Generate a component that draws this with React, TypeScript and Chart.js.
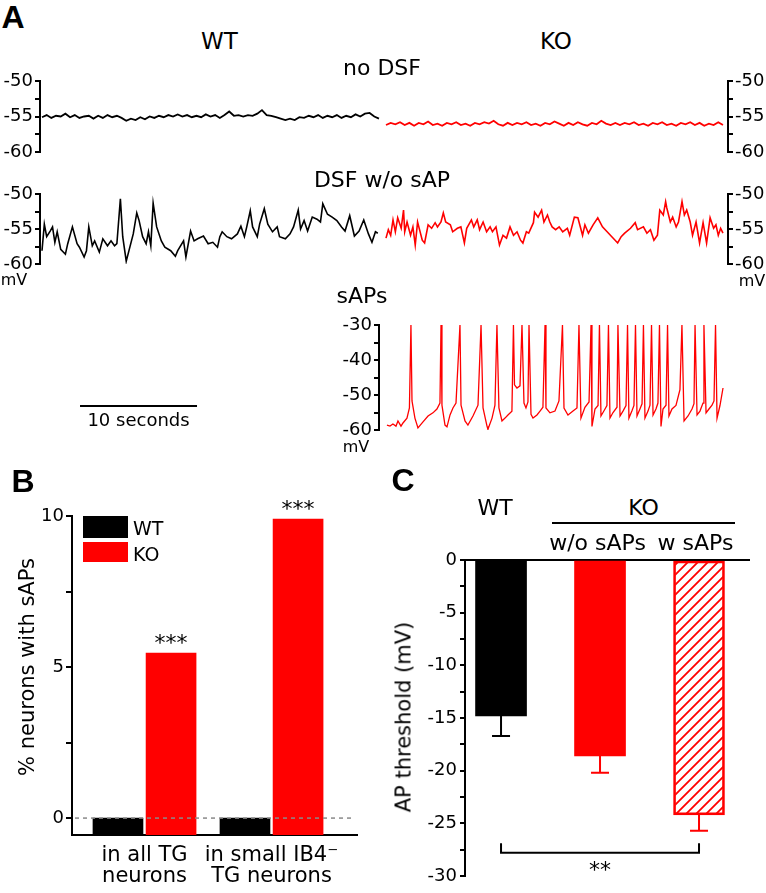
import React, { useEffect, useRef } from "react";
import { Chart, registerables } from "chart.js";

Chart.register(...registerables);

const FONT = "'DejaVu Sans', sans-serif";
const BOLD_FONT = "'Liberation Sans', Arial, sans-serif";
const RED = "#ff0000";
const BLACK = "#000000";
const TICK_SIZE = 18;

// ---------------- Panel A data ----------------
// time axis shared by the WT (left) and KO (right) traces, seconds
const noDsfWtStart = 0;
const noDsfKoStart = 29.4;
const noDsfStep = 0.4;
const noDsfWtMv = [
  -55.1, -54.8, -55.2, -54.9, -55.0, -54.6, -55.1, -54.8, -55.2, -55.0,
  -54.9, -55.3, -54.9, -55.2, -54.8, -55.1, -54.9, -55.2, -55.6, -55.3,
  -55.5, -55.1, -55.4, -55.0, -55.2, -54.9, -55.1, -54.8, -55.0, -54.7,
  -55.0, -54.8, -55.1, -54.9, -55.1, -54.7, -55.0, -54.8, -55.2, -54.8,
  -54.3, -54.9, -54.8, -55.0, -54.8, -54.9, -54.6, -54.1, -54.8, -54.9,
  -55.1, -55.3, -55.5, -55.3, -55.5, -55.1, -55.2, -54.9, -55.1, -54.8,
  -55.2, -54.9, -55.1, -54.8, -55.2, -54.9, -55.1, -54.7, -55.0, -54.6,
  -54.5, -55.0, -55.3,
];
const noDsfKoMv = [
  -56.2, -55.9, -56.1, -55.8, -56.2, -55.9, -56.3, -55.9, -56.1, -55.7,
  -56.2, -56.0, -56.3, -55.9, -56.1, -55.8, -56.2, -56.0, -56.3, -55.9,
  -56.1, -55.8, -56.0, -55.6, -56.1, -56.3, -55.9, -56.2, -55.9, -56.1,
  -55.8, -56.2, -56.0, -56.3, -55.9, -56.1, -55.7, -56.0, -56.3, -55.9,
  -56.2, -55.8, -56.1, -56.3, -55.9, -56.1, -55.6, -56.0, -56.2, -55.9,
  -56.2, -55.9, -56.1, -55.8, -56.2, -56.0, -56.3, -55.9, -56.1, -55.8,
  -56.2, -56.0, -56.3, -55.9, -56.1, -55.8, -56.2, -55.9, -56.3, -56.0,
  -56.2, -55.8, -56.2,
];

const dsfWtTime = [
  0, 0.2, 0.4, 0.7, 0.9, 1.1, 1.3, 1.6, 2.0, 2.2,
  2.6, 3.0, 3.2, 3.6, 3.8, 4.0, 4.3, 4.5, 4.9, 5.2,
  5.6, 5.9, 6.2, 6.4, 6.7, 6.9, 7.2, 7.4, 7.8, 8.1,
  8.3, 8.6, 8.9, 9.1, 9.3, 9.5, 9.8, 10.2, 10.5, 11.0,
  11.4, 11.6, 12.1, 12.3, 12.7, 13.0, 13.3, 13.8, 14.2, 14.6,
  15.0, 15.2, 15.4, 15.8, 16.2, 16.7, 17.0, 17.3, 17.5, 17.8,
  18.0, 18.4, 18.6, 19.0, 19.3, 19.7, 20.1, 20.3, 20.8, 21.2,
  21.5, 21.9, 22.1, 22.4, 22.7, 23.1, 23.5, 23.8, 24.0, 24.4,
  24.8, 25.2, 25.6, 25.9, 26.3, 26.7, 27.1, 27.5, 27.9, 28.2,
  28.5, 28.7,
];
const dsfWtMv = [
  -58.1, -54.3, -56.1, -55.3, -54.7, -56.9, -55.4, -57.9, -58.6, -57.1,
  -54.7, -57.1, -57.6, -59.0, -58.1, -54.7, -57.4, -56.7, -58.3, -56.4,
  -57.4, -56.7, -57.4, -57.1, -50.7, -56.1, -59.6, -58.3, -55.7, -52.7,
  -53.8, -56.1, -57.1, -55.4, -57.4, -51.3, -54.7, -56.7, -57.6, -58.1,
  -58.9, -58.1, -56.7, -59.0, -55.3, -56.7, -56.4, -56.0, -57.1, -56.9,
  -57.6, -56.1, -55.4, -56.1, -56.4, -55.7, -54.6, -56.1, -54.7, -52.4,
  -54.7, -56.1, -54.3, -52.1, -54.3, -55.4, -54.7, -56.1, -56.4, -55.7,
  -54.7, -52.3, -55.0, -53.8, -55.3, -53.3, -53.6, -54.0, -51.4, -52.9,
  -53.3, -53.8, -54.7, -55.3, -53.1, -56.0, -55.3, -53.7, -55.7, -56.9,
  -55.4, -55.6,
];

const dsfKoTime = [
  29.4, 29.6, 29.8, 30.0, 30.2, 30.4, 30.7, 30.9, 31.0, 31.2,
  31.5, 31.7, 31.9, 32.1, 32.5, 32.7, 33.0, 33.3, 33.6, 33.8,
  34.1, 34.3, 34.5, 34.9, 35.1, 35.5, 35.8, 36.1, 36.3, 36.7,
  36.9, 37.2, 37.4, 37.7, 38.0, 38.3, 38.5, 38.8, 39.1, 39.4,
  39.7, 40.0, 40.3, 40.6, 40.9, 41.1, 41.4, 41.6, 42.0, 42.1,
  42.4, 42.7, 42.9, 43.2, 43.4, 43.6, 43.9, 44.2, 44.5, 44.9,
  45.1, 45.5, 45.8, 46.2, 46.4, 46.7, 47.1, 47.5, 47.9, 48.3,
  48.7, 49.2, 49.5, 49.8, 50.3, 50.7, 50.9, 51.4, 51.7, 52.0,
  52.3, 52.6, 52.8, 53.1, 53.3, 53.4, 53.7, 53.9, 54.2, 54.4,
  54.7, 54.9, 55.1, 55.4, 55.6, 55.9, 56.2, 56.5, 56.8, 57.1,
  57.4, 57.6, 57.8, 58.0, 58.2,
];
const dsfKoMv = [
  -56.3, -55.1, -55.9, -53.7, -55.4, -53.4, -54.9, -52.3, -55.4, -54.0,
  -55.9, -54.7, -57.3, -54.0, -56.6, -57.0, -54.4, -54.9, -54.1, -54.7,
  -54.0, -52.7, -54.0, -54.4, -55.4, -54.9, -54.7, -57.0, -54.9, -53.7,
  -54.7, -53.7, -55.1, -54.0, -55.4, -54.7, -55.4, -54.7, -57.3, -55.9,
  -56.3, -54.7, -55.9, -55.4, -56.6, -57.0, -55.4, -55.6, -54.1, -52.6,
  -53.3, -52.3, -54.0, -53.0, -54.0, -54.7, -55.1, -54.7, -55.4, -54.9,
  -55.9, -53.3, -53.4, -55.9, -54.4, -55.6, -54.4, -53.4, -54.7, -55.4,
  -56.1, -57.0, -56.1, -55.6, -54.9, -54.1, -55.1, -54.7, -55.6, -55.1,
  -56.6, -55.9, -52.3, -53.0, -51.1, -52.0, -54.0, -53.3, -54.7, -54.0,
  -51.1, -53.0, -52.3, -54.0, -55.9, -54.0, -57.0, -54.1, -57.0, -53.4,
  -54.9, -54.4, -55.9, -54.9, -55.6,
];

const sapTime = [
  0.17, 0.43, 0.68, 0.94, 1.11, 1.37, 1.54, 1.88, 2.09, 2.22,
  2.31, 2.56, 2.82, 3.25, 3.68, 4.10, 4.44, 4.70, 4.79, 4.87,
  5.13, 5.30, 5.56, 5.81, 6.07, 6.41, 6.50, 6.84, 7.09, 7.52,
  7.95, 8.21, 8.38, 8.72, 8.80, 9.15, 9.40, 9.57, 9.74, 10.00,
  10.26, 10.51, 10.85, 10.98, 11.07, 11.28, 11.54, 11.71, 11.88, 12.05,
  12.22, 12.31, 12.48, 12.65, 12.99, 13.25, 13.50, 13.68, 13.76, 14.10,
  14.53, 14.87, 15.17, 15.30, 15.64, 16.07, 16.41, 16.58, 16.75, 17.09,
  17.44, 17.61, 17.69, 17.95, 18.21, 18.33, 18.46, 18.72, 18.97, 19.10,
  19.23, 19.49, 19.83, 19.91, 20.09, 20.34, 20.60, 20.73, 20.85, 21.11,
  21.28, 21.41, 21.54, 21.79, 21.97, 22.09, 22.22, 22.48, 22.65, 22.78,
  22.91, 23.16, 23.33, 23.46, 23.59, 23.76, 24.02, 24.15, 24.27, 24.53,
  24.87, 25.21, 25.38, 25.56, 25.90, 26.24, 26.41, 26.50, 26.67, 26.92,
  27.18, 27.26, 27.44, 27.69, 27.95, 28.12, 28.25, 28.38, 28.63, 28.89,
];
const sapMv = [
  -58.6, -58.9, -58.3, -58.9, -57.4, -58.9, -58.0, -56.6, -53.7, -30,
  -51.7, -56.6, -59.4, -57.7, -56.0, -55.1, -54.0, -52.3, -30, -52.9,
  -58.6, -59.1, -55.7, -53.7, -52.3, -30, -52.9, -57.4, -58.6, -56.0,
  -52.9, -30, -53.7, -58.9, -59.8, -56.6, -52.9, -30, -53.7, -57.4,
  -56.6, -55.7, -54.6, -30, -47.1, -48.0, -47.4, -30, -52.3, -53.7,
  -52.0, -30, -55.5, -56.6, -55.7, -54.6, -53.5, -30, -53.7, -55.1,
  -54.6, -51.7, -30, -53.7, -55.7, -54.6, -53.7, -30, -56.6, -53.5,
  -52.0, -30, -59.0, -54.0, -53.0, -30, -56.0, -54.5, -53.0, -30,
  -56.6, -55.0, -53.5, -30, -56.0, -54.6, -53.0, -30, -56.6, -54.5,
  -53.0, -30, -56.0, -54.0, -52.5, -30, -56.6, -54.6, -52.9, -30,
  -55.7, -54.0, -52.3, -30, -59.0, -54.0, -52.9, -30, -56.0, -54.0,
  -53.0, -48.5, -30, -57.4, -56.0, -54.0, -52.5, -30, -55.7, -54.6,
  -52.3, -30, -55.1, -54.0, -52.9, -51.7, -30, -56.6, -53.0, -48.0,
];

const traceMajor = [-60, -55, -50];
const traceMinor = [-57.5, -52.5];
const sapMajor = [-60, -50, -40, -30];
const sapMinor = [-55, -45, -35];
const scaleBarStart = 3.25;
const scaleBarSeconds = 10;

// ---------------- Panel B data ----------------
const bGroups = [["in all TG", "neurons"], ["in small IB4\u207B", "TG neurons"]];
const bWt = [0, 0];
const bKo = [5.46, 9.9];
const bStars = ["***", "***"];
const bMajor = [0, 5, 10];
const bMinor = [2.5, 7.5];
const bMin = -0.56;
const bMax = 10;

// ---------------- Panel C data ----------------
const cCategories = ["WT", "KO w/o sAPs", "KO w sAPs"];
const cMean = [-14.8, -18.6, -24.2];
const cSem = [1.9, 1.6, 1.5];
const cMajor = [-30, -25, -20, -15, -10, -5, 0];
const cMinor = [-27.5, -22.5, -17.5, -12.5, -7.5, -2.5];
const cSig = { from: 0, to: 2, level: -27.8, label: "**" };

// ---------------- helpers ----------------
function yAxis(o: any) {
  const all = [...o.major, ...o.minor].sort((a: number, b: number) => a - b);
  return {
    type: "linear",
    position: o.position,
    min: o.min,
    max: o.max,
    afterBuildTicks: (s: any) => {
      s.ticks = all.map((v: number) => ({ value: v }));
    },
    afterFit: (s: any) => {
      s.width = o.width;
    },
    ticks: {
      autoSkip: false,
      padding: o.padding ?? 2,
      color: BLACK,
      font: { family: FONT, size: TICK_SIZE },
      callback: (v: number) => (o.major.includes(v) ? String(v) : ""),
    },
    grid: {
      drawOnChartArea: !!o.zeroLine,
      color: (c: any) => (o.zeroLine && c.tick && c.tick.value === 0 ? BLACK : "rgba(0,0,0,0)"),
      lineWidth: 2,
      drawTicks: true,
      tickLength: o.tickLength ?? 5,
      tickColor: BLACK,
      tickWidth: 2,
    },
    border: { display: true, color: BLACK, width: 2 },
  };
}

const trace = (time: number[], mv: number[], color: string, width = 1.5) => ({
  data: time.map((t, i) => ({ x: t, y: mv[i] })),
  borderColor: color,
  borderWidth: width,
  pointRadius: 0,
  tension: 0,
  fill: false,
  yAxisID: "y",
});

function traceChart(canvas: HTMLCanvasElement, datasets: any[], o: any) {
  const scales: any = {
    x: { type: "linear", display: false, min: o.xMin, max: o.xMax, offset: false },
    y: yAxis({ ...o.y, position: "left", width: o.leftWidth }),
  };
  if (o.rightWidth) scales.y2 = yAxis({ ...o.y, position: "right", width: o.rightWidth });
  return new Chart(canvas, {
    type: "line",
    data: { datasets },
    options: {
      responsive: false,
      animation: false,
      events: [],
      layout: { padding: o.padding },
      plugins: { legend: { display: false }, tooltip: { enabled: false } },
      scales,
    },
    plugins: o.plugins || [],
  } as any);
}

const scaleBarPlugin = {
  id: "scaleBar",
  afterDraw(chart: any) {
    const xs = chart.scales.x;
    const ctx = chart.ctx;
    const x0 = xs.getPixelForValue(scaleBarStart);
    const x1 = xs.getPixelForValue(scaleBarStart + scaleBarSeconds);
    const y = chart.chartArea.bottom + 142;
    ctx.save();
    ctx.strokeStyle = BLACK;
    ctx.lineWidth = 2;
    ctx.beginPath();
    ctx.moveTo(x0, y);
    ctx.lineTo(x1, y);
    ctx.stroke();
    ctx.fillStyle = BLACK;
    ctx.font = `18px ${FONT}`;
    ctx.textAlign = "center";
    ctx.textBaseline = "middle";
    ctx.fillText(`${scaleBarSeconds} seconds`, (x0 + x1) / 2, y + 15);
    ctx.restore();
  },
};

const bPlugin = {
  id: "bExtras",
  afterDatasetsDraw(chart: any) {
    const ctx = chart.ctx;
    const ys = chart.scales.y;
    const a = chart.chartArea;
    const y0 = ys.getPixelForValue(0);
    ctx.save();
    ctx.setLineDash([4, 4]);
    ctx.strokeStyle = "#8a8a8a";
    ctx.lineWidth = 1.5;
    ctx.beginPath();
    ctx.moveTo(a.left + 3, y0);
    ctx.lineTo(a.right - 4, y0);
    ctx.stroke();
    ctx.setLineDash([]);
    ctx.fillStyle = BLACK;
    ctx.font = `22px ${FONT}`;
    ctx.textAlign = "center";
    ctx.textBaseline = "alphabetic";
    chart.getDatasetMeta(1).data.forEach((bar: any, i: number) => {
      ctx.fillText(bStars[i], bar.x, bar.y - 3);
    });
    ctx.restore();
  },
};

const cErrColors = [BLACK, RED, RED];
const cPlugin = {
  id: "cExtras",
  afterDatasetsDraw(chart: any) {
    const ctx = chart.ctx;
    const ys = chart.scales.y;
    const bars = chart.getDatasetMeta(0).data;
    ctx.save();
    ctx.lineWidth = 2;
    bars.forEach((bar: any, i: number) => {
      const x = bar.x;
      const y0 = ys.getPixelForValue(cMean[i]);
      const y1 = ys.getPixelForValue(cMean[i] - cSem[i]);
      ctx.strokeStyle = cErrColors[i];
      ctx.beginPath();
      ctx.moveTo(x, y0);
      ctx.lineTo(x, y1);
      ctx.moveTo(x - 9, y1);
      ctx.lineTo(x + 9, y1);
      ctx.stroke();
    });
    const xa = bars[cSig.from].x;
    const xb = bars[cSig.to].x;
    const yb = ys.getPixelForValue(cSig.level);
    const yt = ys.getPixelForValue(cSig.level + 0.9);
    ctx.strokeStyle = BLACK;
    ctx.beginPath();
    ctx.moveTo(xa, yt);
    ctx.lineTo(xa, yb);
    ctx.lineTo(xb, yb);
    ctx.lineTo(xb, yt);
    ctx.stroke();
    ctx.fillStyle = BLACK;
    ctx.font = `22px ${FONT}`;
    ctx.textAlign = "center";
    ctx.textBaseline = "alphabetic";
    ctx.fillText(cSig.label, (xa + xb) / 2, yb + 24);
    ctx.restore();
  },
};

function hatchPattern(ctx: CanvasRenderingContext2D) {
  const c = document.createElement("canvas");
  c.width = 10;
  c.height = 10;
  const g = c.getContext("2d")!;
  g.strokeStyle = RED;
  g.lineWidth = 1.8;
  g.beginPath();
  g.moveTo(0, 10);
  g.lineTo(10, 0);
  g.moveTo(-5, 5);
  g.lineTo(5, -5);
  g.moveTo(5, 15);
  g.lineTo(15, 5);
  g.stroke();
  return ctx.createPattern(c, "repeat");
}

// ---------------- components ----------------
function Txt(p: any) {
  const tx = p.align === "left" ? "0" : p.align === "right" ? "-100%" : "-50%";
  return (
    <div
      style={{
        position: "absolute",
        left: p.x,
        top: p.y,
        transform: `translate(${tx}, -50%)${p.rotate ? " rotate(-90deg)" : ""}`,
        fontFamily: p.family || FONT,
        fontSize: p.size,
        fontWeight: p.bold ? 700 : 400,
        lineHeight: 1,
        whiteSpace: "nowrap",
        color: BLACK,
      }}
    >
      {p.children}
    </div>
  );
}

function Cv(p: any) {
  return (
    <canvas
      ref={p.cref}
      width={p.w}
      height={p.h}
      style={{ position: "absolute", left: p.x, top: p.y, width: p.w, height: p.h, display: "block" }}
    />
  );
}

export default function App() {
  const r1 = useRef<HTMLCanvasElement>(null);
  const r2 = useRef<HTMLCanvasElement>(null);
  const r3 = useRef<HTMLCanvasElement>(null);
  const rb = useRef<HTMLCanvasElement>(null);
  const rc = useRef<HTMLCanvasElement>(null);

  useEffect(() => {
    const charts: Chart[] = [];
    const rowY = { min: -60, max: -50, major: traceMajor, minor: traceMinor, tickLength: 5, padding: 2 };

    const wt1Time = noDsfWtMv.map((_, i) => noDsfWtStart + i * noDsfStep);
    const ko1Time = noDsfKoMv.map((_, i) => noDsfKoStart + i * noDsfStep);

    charts.push(
      traceChart(r1.current!, [trace(wt1Time, noDsfWtMv, BLACK, 1.8), trace(ko1Time, noDsfKoMv, RED, 1.8)], {
        xMin: -0.17,
        xMax: 58.63,
        y: rowY,
        leftWidth: 40,
        rightWidth: 38,
        padding: { top: 21, bottom: 18, left: 0, right: 0 },
      })
    );

    charts.push(
      traceChart(r2.current!, [trace(dsfWtTime, dsfWtMv, BLACK, 1.6), trace(dsfKoTime, dsfKoMv, RED, 1.6)], {
        xMin: -0.17,
        xMax: 58.63,
        y: rowY,
        leftWidth: 40,
        rightWidth: 38,
        padding: { top: 19, bottom: 171, left: 0, right: 0 },
        plugins: [scaleBarPlugin],
      })
    );

    charts.push(
      traceChart(r3.current!, [trace(sapTime, sapMv, RED, 1.3)], {
        xMin: -0.51,
        xMax: 29.06,
        y: { min: -60, max: -30, major: sapMajor, minor: sapMinor, tickLength: 5, padding: 2 },
        leftWidth: 49,
        padding: { top: 15, bottom: 15, left: 0, right: 5 },
      })
    );

    const bOff = 0.209;
    charts.push(
      new Chart(rb.current!, {
        type: "bar",
        data: {
          datasets: [
            {
              label: "WT",
              data: bWt.map((v, i) => ({ x: i - bOff, y: v })),
              backgroundColor: BLACK,
              base: bMin,
              barThickness: 50,
              grouped: false,
            },
            {
              label: "KO",
              data: bKo.map((v, i) => ({ x: i + bOff, y: v })),
              backgroundColor: RED,
              base: bMin,
              barThickness: 50,
              grouped: false,
            },
          ],
        },
        options: {
          responsive: false,
          animation: false,
          events: [],
          layout: { padding: { top: 26, bottom: 0, left: 0, right: 23 } },
          plugins: { legend: { display: false }, tooltip: { enabled: false } },
          scales: {
            x: {
              type: "linear",
              min: -0.571,
              max: 1.673,
              offset: false,
              afterBuildTicks: (s: any) => {
                s.ticks = bGroups.map((_, i) => ({ value: i }));
              },
              afterFit: (s: any) => {
                s.height = 55;
              },
              ticks: {
                autoSkip: false,
                maxRotation: 0,
                minRotation: 0,
                padding: 10,
                color: BLACK,
                font: { family: FONT, size: 21, lineHeight: 1 },
                callback: (v: number) => bGroups[v] ?? "",
              },
              grid: { display: false, drawTicks: false, offset: false },
              border: { display: true, color: BLACK, width: 2 },
            },
            y: yAxis({ min: bMin, max: bMax, major: bMajor, minor: bMinor, position: "left", width: 72, tickLength: 6, padding: 2 }),
          },
        },
        plugins: [bPlugin],
      } as any)
    );

    const cctx = rc.current!.getContext("2d")!;
    const pattern = hatchPattern(cctx);
    charts.push(
      new Chart(rc.current!, {
        type: "bar",
        data: {
          datasets: [
            {
              label: "AP threshold",
              data: cMean.map((v, i) => ({ x: i, y: v })),
              backgroundColor: [BLACK, RED, pattern],
              borderColor: [BLACK, RED, RED],
              borderWidth: [0, 0, 2],
              borderSkipped: false,
              barThickness: 51,
              grouped: false,
            },
          ],
        },
        options: {
          responsive: false,
          animation: false,
          events: [],
          layout: { padding: { top: 20, bottom: 17, left: 0, right: 16 } },
          plugins: { legend: { display: false }, tooltip: { enabled: false } },
          scales: {
            x: { type: "linear", display: false, min: -0.364, max: 2.515, offset: false, grid: { offset: false } },
            y: yAxis({ min: -30, max: 0, major: cMajor, minor: cMinor, position: "left", width: 85, tickLength: 5, padding: 3, zeroLine: true }),
          },
        },
        plugins: [cPlugin],
      } as any)
    );

    return () => charts.forEach((c) => c.destroy());
  }, []);

  return (
    <div style={{ position: "absolute", left: 0, top: 0, width: 766, height: 893, background: "#fff", overflow: "hidden" }}>
      <Cv cref={r1} x={0} y={60} w={766} h={110} />
      <Cv cref={r2} x={0} y={175} w={766} h={260} />
      <Cv cref={r3} x={330} y={310} w={400} h={135} />
      <Cv cref={rb} x={0} y={490} w={380} h={400} />
      <Cv cref={rc} x={380} y={540} w={386} h={353} />

      {/* Panel A labels */}
      <Txt x={13} y={16.5} size={32} bold family={BOLD_FONT}>A</Txt>
      <Txt x={219.5} y={41} size={23}>WT</Txt>
      <Txt x={556} y={41} size={23}>KO</Txt>
      <Txt x={382} y={67.5} size={22}>no DSF</Txt>
      <Txt x={382} y={180} size={22}>DSF w/o sAP</Txt>
      <Txt x={362} y={295.5} size={22}>sAPs</Txt>
      <Txt x={14} y={280} size={16}>mV</Txt>
      <Txt x={752} y={281} size={16}>mV</Txt>
      <Txt x={356} y={447} size={16}>mV</Txt>

      {/* Panel B labels */}
      <Txt x={23} y={480.5} size={32} bold family={BOLD_FONT}>B</Txt>
      <Txt x={26.5} y={666.5} size={21} rotate>% neurons with sAPs</Txt>
      <div style={{ position: "absolute", left: 83, top: 516, width: 45, height: 22, background: BLACK }} />
      <div style={{ position: "absolute", left: 83, top: 542, width: 45, height: 20, background: RED }} />
      <Txt x={133} y={527.5} size={19} align="left">WT</Txt>
      <Txt x={133} y={553.5} size={19} align="left">KO</Txt>

      {/* Panel C labels */}
      <Txt x={403} y={479.5} size={32} bold family={BOLD_FONT}>C</Txt>
      <Txt x={404} y={716.5} size={21} rotate>AP threshold (mV)</Txt>
      <Txt x={495} y={507.5} size={22}>{cCategories[0]}</Txt>
      <Txt x={643.5} y={507.5} size={22}>KO</Txt>
      <div style={{ position: "absolute", left: 552, top: 522, width: 183, height: 2, background: BLACK }} />
      <Txt x={597.5} y={542.5} size={22}>w/o sAPs</Txt>
      <Txt x={695.5} y={542.5} size={22}>w sAPs</Txt>
    </div>
  );
}
